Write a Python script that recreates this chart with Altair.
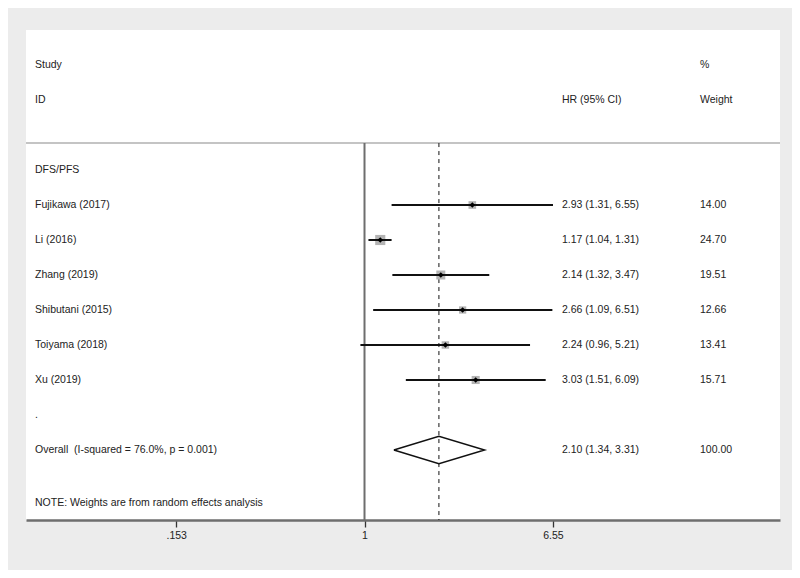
import altair as alt
import pandas as pd

# ---- data ----
studies = ["Fujikawa (2017)", "Li (2016)", "Zhang (2019)", "Shibutani (2015)", "Toiyama (2018)", "Xu (2019)"]
hr = [2.93, 1.17, 2.14, 2.66, 2.24, 3.03]
lci = [1.31, 1.04, 1.32, 1.09, 0.96, 1.51]
uci = [6.55, 1.31, 3.47, 6.51, 5.21, 6.09]
weight = [14.00, 24.70, 19.51, 12.66, 13.41, 15.71]

overall_label = "Overall \u00a0(I-squared = 76.0%, p = 0.001)"
overall_est = 2.10
overall_lci = 1.34
overall_uci = 3.31
overall_weight = 100.00

subgroup = "DFS/PFS"
note = "NOTE: Weights are from random effects analysis"

tick_values = [0.153, 1, 6.55]
tick_labels = [".153", "1", "6.55"]

# ---- layout (row positions on the y scale) ----
W, H = 754, 490
ROW_STUDY0 = 5
ROW_SUB = 4
ROW_DOT = 11
ROW_OVERALL = 12
ROW_NOTE = 13.5
ROW_LINE = 3.23
X_NAME, X_HR, X_W = 9, 536, 674
FS = 10.5

studies_df = pd.DataFrame({
    "study": studies, "hr": hr, "lci": lci, "uci": uci, "weight": weight,
    "row": [ROW_STUDY0 + i for i in range(len(studies))],
})
studies_df["hr_txt"] = [f"{h:.2f} ({l:.2f}, {u:.2f})" for h, l, u in zip(hr, lci, uci)]
studies_df["w_txt"] = [f"{w:.2f}" for w in weight]

left_text = pd.DataFrame({
    "label": ["Study", "ID", subgroup] + studies + [".", overall_label, note],
    "row": [1, 2, ROW_SUB] + list(studies_df["row"]) + [ROW_DOT, ROW_OVERALL, ROW_NOTE],
})
hr_text = pd.DataFrame({
    "label": ["HR (95% CI)"] + list(studies_df["hr_txt"]) +
             [f"{overall_est:.2f} ({overall_lci:.2f}, {overall_uci:.2f})"],
    "row": [2] + list(studies_df["row"]) + [ROW_OVERALL],
})
w_text = pd.DataFrame({
    "label": ["%", "Weight"] + list(studies_df["w_txt"]) + [f"{overall_weight:.2f}"],
    "row": [1, 2] + list(studies_df["row"]) + [ROW_OVERALL],
})

dh = 0.39
diamond = pd.DataFrame({
    "x": [overall_lci, overall_est, overall_uci, overall_est, overall_lci],
    "row": [ROW_OVERALL, ROW_OVERALL - dh, ROW_OVERALL, ROW_OVERALL + dh, ROW_OVERALL],
    "o": [0, 1, 2, 3, 4],
})

label_expr = ""
for v, lab in zip(tick_values, tick_labels):
    label_expr += f"abs(datum.value - {v}) < 1e-6 ? '{lab}' : "
label_expr += "''"

xscale = alt.Scale(type="log", domain=[0.0342, 63.0], nice=False, zero=False)
yscale = alt.Scale(domain=[0, 14], reverse=True, nice=False, zero=False)

xaxis = alt.Axis(values=tick_values, labelExpr=label_expr, title=None, grid=False,
                 domainColor="#6e6e6e", domainWidth=2.5, tickColor="#333333",
                 tickWidth=1.3, tickSize=7, labelColor="#222222", labelFontSize=FS,
                 labelFont="Liberation Sans", labelPadding=3, labelFlush=False)

base = alt.Chart(studies_df)

# axis carrier (invisible)
axis_layer = alt.Chart(pd.DataFrame({"v": tick_values})).mark_point(opacity=0).encode(
    x=alt.X("v:Q", scale=xscale, axis=xaxis),
    y=alt.value(0),
)

grey_line = alt.Chart(pd.DataFrame({"r": [ROW_LINE]})).mark_rule(
    color="#c4c4c4", strokeWidth=2
).encode(
    y=alt.Y("r:Q", scale=yscale, axis=None), x=alt.value(0), x2=alt.value(W)
)

null_line = alt.Chart(pd.DataFrame({"v": [1.0], "r1": [ROW_LINE], "r2": [14]})).mark_rule(
    color="#6e6e6e", strokeWidth=2
).encode(
    x=alt.X("v:Q", scale=xscale), y=alt.Y("r1:Q", scale=yscale, axis=None), y2="r2:Q"
)

overall_line = alt.Chart(pd.DataFrame({"v": [overall_est], "r1": [ROW_LINE], "r2": [14]})).mark_rule(
    color="#111111", strokeWidth=1, strokeDash=[4, 4]
).encode(
    x=alt.X("v:Q", scale=xscale), y=alt.Y("r1:Q", scale=yscale, axis=None), y2="r2:Q"
)

squares = base.mark_square(color="#b4b4b4", opacity=1).encode(
    x=alt.X("hr:Q", scale=xscale),
    y=alt.Y("row:Q", scale=yscale, axis=None),
    size=alt.Size("weight:Q", scale=alt.Scale(type="linear", domain=[0, 25], range=[0, 104]), legend=None),
)

ci = base.mark_rule(color="#111111", strokeWidth=2).encode(
    x=alt.X("lci:Q", scale=xscale), x2="uci:Q",
    y=alt.Y("row:Q", scale=yscale, axis=None),
)

pts = base.mark_point(shape="diamond", filled=True, color="#000000", size=32, opacity=1).encode(
    x=alt.X("hr:Q", scale=xscale),
    y=alt.Y("row:Q", scale=yscale, axis=None),
)

diamond_layer = alt.Chart(diamond).mark_line(color="#111111", strokeWidth=1.5).encode(
    x=alt.X("x:Q", scale=xscale),
    y=alt.Y("row:Q", scale=yscale, axis=None),
    order="o:O",
)

def text_layer(df, xpix):
    return alt.Chart(df).mark_text(
        align="left", baseline="middle", fontSize=FS, font="Liberation Sans", color="#222222"
    ).encode(
        x=alt.value(xpix),
        y=alt.Y("row:Q", scale=yscale, axis=None),
        text="label:N",
    )

chart = alt.layer(
    axis_layer, grey_line, null_line, overall_line, squares, ci, pts, diamond_layer,
    text_layer(left_text, X_NAME), text_layer(hr_text, X_HR), text_layer(w_text, X_W),
).properties(
    width=W, height=H,
    autosize=alt.AutoSizeParams(type="none"),
    padding={"left": 18, "top": 22, "right": 12, "bottom": 50},
    background="#ececec",
).configure_view(
    fill="white", strokeWidth=0
)

chart.save("out.html", embed_options={"renderer": "svg", "actions": False})
